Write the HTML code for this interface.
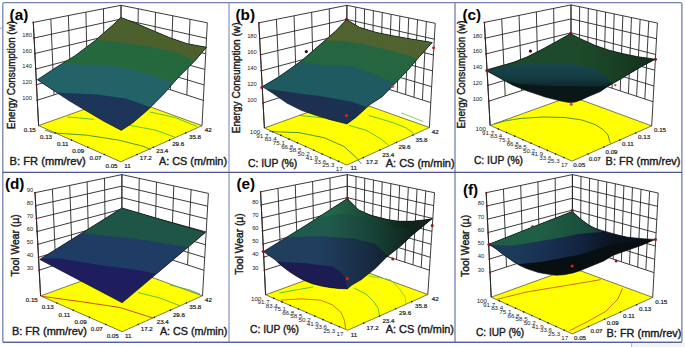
<!DOCTYPE html>
<html><head><meta charset="utf-8"><style>
html,body{margin:0;padding:0;background:#fff;}
svg{display:block;font-family:"Liberation Sans", sans-serif;}
</style></head><body>
<svg width="685" height="347" viewBox="0 0 685 347">
<rect width="685" height="347" fill="#fff"/>
<g id="pa"><g stroke="#262626" stroke-width="0.9"><line x1="38.60" y1="125.60" x2="33.30" y2="22.40"/><line x1="54.04" y1="94.93" x2="50.84" y2="18.98"/><line x1="70.78" y1="89.65" x2="68.38" y2="15.56"/><line x1="87.52" y1="84.37" x2="85.92" y2="12.14"/><line x1="104.26" y1="79.08" x2="103.46" y2="8.72"/><line x1="121.00" y1="96.15" x2="121.00" y2="5.30"/><line x1="202.00" y1="125.70" x2="207.30" y2="22.80"/><line x1="186.84" y1="95.07" x2="190.04" y2="19.30"/><line x1="170.38" y1="89.75" x2="172.78" y2="15.80"/><line x1="153.92" y1="84.44" x2="155.52" y2="12.30"/><line x1="137.46" y1="79.12" x2="138.26" y2="8.80"/><line x1="121.00" y1="73.80" x2="121.00" y2="5.30"/><polyline fill="none" points="37.3,100.2 121.0,73.8 203.3,100.4"/><polyline fill="none" points="36.5,84.7 121.0,60.1 204.1,84.9"/><polyline fill="none" points="35.7,69.1 121.0,46.4 204.9,69.4"/><polyline fill="none" points="34.9,53.5 121.0,32.7 205.7,53.8"/><polyline fill="none" points="34.1,38.0 121.0,19.0 206.5,38.3"/><polyline fill="none" points="33.3,22.4 121.0,5.3 207.3,22.8"/></g><polygon points="120.8,161.8 202.0,125.7 121.0,96.2 38.6,125.6" fill="#ffff00" stroke="#222" stroke-width="0.6"/><polyline points="67.3,117.0 80.0,118.0 94.1,119.4" fill="none" stroke="#4cbb3c" stroke-width="0.9" stroke-linejoin="round"/><polyline points="45.0,130.0 52.6,132.8 86.8,135.2 118.5,140.1 142.9,146.2 151.0,149.5" fill="none" stroke="#3d8a30" stroke-width="0.9" stroke-linejoin="round"/><polyline points="125.0,124.0 130.7,125.5 155.0,130.0 174.5,137.0" fill="none" stroke="#4cbb3c" stroke-width="0.9" stroke-linejoin="round"/><polyline points="150.0,112.0 175.0,117.5 197.0,126.5" fill="none" stroke="#4cbb3c" stroke-width="0.9" stroke-linejoin="round"/><line x1="38.60" y1="125.60" x2="33.30" y2="22.40" stroke="#222" stroke-width="0.9"/><circle cx="37.30" cy="100.21" r="0.9" fill="#8a1010"/><circle cx="36.50" cy="84.65" r="0.9" fill="#8a1010"/><circle cx="35.70" cy="69.09" r="0.9" fill="#8a1010"/><circle cx="34.90" cy="53.53" r="0.9" fill="#8a1010"/><circle cx="34.10" cy="37.96" r="0.9" fill="#8a1010"/><circle cx="33.30" cy="22.40" r="0.9" fill="#8a1010"/><defs></defs><clipPath id="cla"><polygon points="37.3,79.7 55.2,67.9 75.4,55.4 95.5,40.2 111.7,26.1 120.8,17.4 135.3,23.0 152.6,30.4 169.9,37.7 187.2,43.7 206.5,47.2 195.7,60.0 178.4,77.3 163.2,94.6 148.1,109.7 133.0,122.7 121.3,130.4 104.2,121.4 86.9,111.3 69.6,101.0 52.3,89.7"/></clipPath><polygon points="37.3,79.7 55.2,67.9 75.4,55.4 95.5,40.2 111.7,26.1 120.8,17.4 135.3,23.0 152.6,30.4 169.9,37.7 187.2,43.7 206.5,47.2 195.7,60.0 178.4,77.3 163.2,94.6 148.1,109.7 133.0,122.7 121.3,130.4 104.2,121.4 86.9,111.3 69.6,101.0 52.3,89.7" fill="#1d3558"/><g clip-path="url(#cla)"><polygon points="-30.0,91.5 30.0,91.5 60.0,92.8 97.5,94.6 125.5,98.4 144.3,104.9 151.8,107.7 160.0,112.0 220.0,112.0 220.0,-288.0 -30.0,-308.5" fill="#236368"/><polygon points="-30.0,57.0 30.0,57.0 60.0,63.7 88.0,64.7 116.2,66.5 144.3,73.1 164.9,79.6 174.2,82.4 185.0,86.0 245.0,86.0 245.0,-314.0 -30.0,-343.0" fill="#25683d"/><polygon points="20.0,39.5 80.0,39.5 96.0,40.0 118.0,42.0 150.0,46.5 178.0,53.0 195.0,61.0 210.0,66.0 270.0,66.0 270.0,-334.0 20.0,-360.5" fill="#4c602e"/></g><polygon points="37.3,79.7 55.2,67.9 75.4,55.4 95.5,40.2 111.7,26.1 120.8,17.4 135.3,23.0 152.6,30.4 169.9,37.7 187.2,43.7 206.5,47.2 195.7,60.0 178.4,77.3 163.2,94.6 148.1,109.7 133.0,122.7 121.3,130.4 104.2,121.4 86.9,111.3 69.6,101.0 52.3,89.7" fill="none" stroke="#0c0c0c" stroke-width="0.6" stroke-linejoin="round"/><circle cx="104.36" cy="154.56" r="0.8" fill="#111"/><circle cx="87.92" cy="147.32" r="0.8" fill="#111"/><circle cx="71.48" cy="140.08" r="0.8" fill="#111"/><circle cx="55.04" cy="132.84" r="0.8" fill="#111"/><circle cx="137.04" cy="154.58" r="0.8" fill="#111"/><circle cx="153.28" cy="147.36" r="0.8" fill="#111"/><circle cx="169.52" cy="140.14" r="0.8" fill="#111"/><circle cx="185.76" cy="132.92" r="0.8" fill="#111"/></g><g id="pb"><g stroke="#262626" stroke-width="0.9"><line x1="264.40" y1="128.00" x2="258.80" y2="22.80"/><line x1="279.83" y1="97.49" x2="276.42" y2="19.30"/><line x1="296.60" y1="92.13" x2="294.04" y2="15.80"/><line x1="313.36" y1="86.76" x2="311.66" y2="12.30"/><line x1="330.13" y1="81.40" x2="329.28" y2="8.80"/><line x1="346.90" y1="98.25" x2="346.90" y2="5.30"/><line x1="429.40" y1="127.50" x2="435.20" y2="23.30"/><line x1="422.40" y1="99.94" x2="426.37" y2="21.50"/><line x1="414.01" y1="97.28" x2="417.54" y2="19.70"/><line x1="405.62" y1="94.63" x2="408.71" y2="17.90"/><line x1="397.23" y1="91.97" x2="399.88" y2="16.10"/><line x1="388.84" y1="89.32" x2="391.05" y2="14.30"/><line x1="380.45" y1="86.66" x2="382.22" y2="12.50"/><line x1="372.07" y1="84.00" x2="373.39" y2="10.70"/><line x1="363.68" y1="81.35" x2="364.56" y2="8.90"/><line x1="355.29" y1="78.69" x2="355.73" y2="7.10"/><line x1="346.90" y1="76.03" x2="346.90" y2="5.30"/><polyline fill="none" points="263.1,102.9 346.9,76.0 430.8,102.6"/><polyline fill="none" points="262.2,86.8 346.9,61.9 431.7,86.7"/><polyline fill="none" points="261.4,70.8 346.9,47.7 432.6,70.9"/><polyline fill="none" points="260.5,54.8 346.9,33.6 433.4,55.0"/><polyline fill="none" points="259.7,38.8 346.9,19.4 434.3,39.2"/><polyline fill="none" points="258.8,22.8 346.9,5.3 435.2,23.3"/></g><polygon points="346.8,165.1 429.4,127.5 346.9,98.2 264.4,128.0" fill="#ffff00" stroke="#222" stroke-width="0.6"/><polyline points="299.2,115.4 324.0,117.9" fill="none" stroke="#4cbb3c" stroke-width="0.9" stroke-linejoin="round"/><polyline points="269.4,131.5 299.2,132.7 324.0,137.7 343.9,146.4 356.3,157.6 361.3,163.8" fill="none" stroke="#3d8a30" stroke-width="0.9" stroke-linejoin="round"/><polyline points="348.8,125.3 366.2,130.3 381.1,139.0 388.6,145.4" fill="none" stroke="#4cbb3c" stroke-width="0.9" stroke-linejoin="round"/><polyline points="368.7,115.4 393.5,122.8 405.9,127.8 413.4,133.0" fill="none" stroke="#4cbb3c" stroke-width="0.9" stroke-linejoin="round"/><polyline points="401.0,112.9 423.3,121.6" fill="none" stroke="#7ccc4c" stroke-width="0.9" stroke-linejoin="round"/><line x1="264.40" y1="128.00" x2="258.80" y2="22.80" stroke="#222" stroke-width="0.9"/><circle cx="263.06" cy="102.86" r="0.9" fill="#8a1010"/><circle cx="262.21" cy="86.85" r="0.9" fill="#8a1010"/><circle cx="261.36" cy="70.83" r="0.9" fill="#8a1010"/><circle cx="260.50" cy="54.82" r="0.9" fill="#8a1010"/><circle cx="259.65" cy="38.81" r="0.9" fill="#8a1010"/><circle cx="258.80" cy="22.80" r="0.9" fill="#8a1010"/><defs></defs><clipPath id="clb"><polygon points="262.3,86.6 278.1,77.3 301.1,61.1 319.6,45.0 335.7,31.1 346.6,19.6 359.3,27.3 376.6,32.5 393.8,35.9 411.1,39.0 432.3,42.4 420.0,56.0 408.0,70.0 391.9,86.7 381.9,96.9 370.0,104.6 355.9,117.4 346.9,123.9 330.1,119.7 315.7,115.3 301.3,110.3 286.8,103.1 272.4,93.0"/></clipPath><polygon points="262.3,86.6 278.1,77.3 301.1,61.1 319.6,45.0 335.7,31.1 346.6,19.6 359.3,27.3 376.6,32.5 393.8,35.9 411.1,39.0 432.3,42.4 420.0,56.0 408.0,70.0 391.9,86.7 381.9,96.9 370.0,104.6 355.9,117.4 346.9,123.9 330.1,119.7 315.7,115.3 301.3,110.3 286.8,103.1 272.4,93.0" fill="#1c3152"/><g clip-path="url(#clb)"><polygon points="195.0,87.0 255.0,87.0 279.6,90.8 301.3,93.7 322.9,96.6 350.0,101.6 363.1,105.7 371.0,108.3 380.0,112.0 440.0,112.0 440.0,-288.0 195.0,-313.0" fill="#1f5a60"/><polygon points="230.0,62.0 290.0,62.0 301.1,62.3 323.7,65.0 350.0,65.7 363.0,70.2 386.7,79.4 395.0,84.0 455.0,84.0 455.0,-316.0 230.0,-338.0" fill="#256640"/><polygon points="255.0,40.0 315.0,40.0 324.2,40.4 342.0,41.1 361.3,43.7 376.6,47.2 411.0,56.0 425.0,65.0 435.0,70.0 495.0,70.0 495.0,-330.0 255.0,-360.0" fill="#506230"/></g><polygon points="262.3,86.6 278.1,77.3 301.1,61.1 319.6,45.0 335.7,31.1 346.6,19.6 359.3,27.3 376.6,32.5 393.8,35.9 411.1,39.0 432.3,42.4 420.0,56.0 408.0,70.0 391.9,86.7 381.9,96.9 370.0,104.6 355.9,117.4 346.9,123.9 330.1,119.7 315.7,115.3 301.3,110.3 286.8,103.1 272.4,93.0" fill="none" stroke="#0c0c0c" stroke-width="0.6" stroke-linejoin="round"/><circle cx="338.56" cy="161.39" r="0.8" fill="#111"/><circle cx="330.32" cy="157.68" r="0.8" fill="#111"/><circle cx="322.08" cy="153.97" r="0.8" fill="#111"/><circle cx="313.84" cy="150.26" r="0.8" fill="#111"/><circle cx="305.60" cy="146.55" r="0.8" fill="#111"/><circle cx="297.36" cy="142.84" r="0.8" fill="#111"/><circle cx="289.12" cy="139.13" r="0.8" fill="#111"/><circle cx="280.88" cy="135.42" r="0.8" fill="#111"/><circle cx="272.64" cy="131.71" r="0.8" fill="#111"/><circle cx="363.32" cy="157.58" r="0.8" fill="#111"/><circle cx="379.84" cy="150.06" r="0.8" fill="#111"/><circle cx="396.36" cy="142.54" r="0.8" fill="#111"/><circle cx="412.88" cy="135.02" r="0.8" fill="#111"/><circle cx="346.5" cy="115.5" r="1.5" fill="#e02020"/><circle cx="261.8" cy="87.6" r="1.5" fill="#a01818"/><circle cx="433.6" cy="47.8" r="1.5" fill="#c02020"/><circle cx="346.4" cy="19.4" r="1.5" fill="#801010"/><circle cx="392.9" cy="86.6" r="1.4" fill="#d04040"/><circle cx="306.3" cy="51.6" r="1.6" fill="#3a0a0a"/></g><g id="pc"><g stroke="#262626" stroke-width="0.9"><line x1="490.10" y1="125.40" x2="484.40" y2="22.40"/><line x1="505.21" y1="95.90" x2="501.72" y2="18.90"/><line x1="521.66" y1="90.60" x2="519.04" y2="15.40"/><line x1="538.10" y1="85.30" x2="536.36" y2="11.90"/><line x1="554.55" y1="80.00" x2="553.68" y2="8.40"/><line x1="571.00" y1="96.15" x2="571.00" y2="4.90"/><line x1="651.70" y1="125.90" x2="657.40" y2="23.00"/><line x1="644.84" y1="99.02" x2="648.76" y2="21.19"/><line x1="636.63" y1="96.32" x2="640.12" y2="19.38"/><line x1="628.43" y1="93.61" x2="631.48" y2="17.57"/><line x1="620.22" y1="90.91" x2="622.84" y2="15.76"/><line x1="612.02" y1="88.21" x2="614.20" y2="13.95"/><line x1="603.82" y1="85.51" x2="605.56" y2="12.14"/><line x1="595.61" y1="82.81" x2="596.92" y2="10.33"/><line x1="587.41" y1="80.11" x2="588.28" y2="8.52"/><line x1="579.20" y1="77.41" x2="579.64" y2="6.71"/><line x1="571.00" y1="74.71" x2="571.00" y2="4.90"/><polyline fill="none" points="488.8,101.2 571.0,74.7 653.0,101.7"/><polyline fill="none" points="487.9,85.4 571.0,60.7 653.9,86.0"/><polyline fill="none" points="487.0,69.7 571.0,46.8 654.8,70.2"/><polyline fill="none" points="486.1,53.9 571.0,32.8 655.7,54.5"/><polyline fill="none" points="485.3,38.2 571.0,18.9 656.5,38.7"/><polyline fill="none" points="484.4,22.4 571.0,4.9 657.4,23.0"/></g><polygon points="572.0,161.1 651.7,125.9 571.0,96.2 490.1,125.4" fill="#ffff00" stroke="#222" stroke-width="0.6"/><polyline points="494.0,124.0 505.0,121.0 520.0,118.5 543.0,117.0 565.0,117.5 582.0,120.0 595.0,124.5 603.0,129.5 608.0,135.0 610.3,143.5" fill="none" stroke="#3d8a30" stroke-width="0.9" stroke-linejoin="round"/><line x1="490.10" y1="125.40" x2="484.40" y2="22.40" stroke="#222" stroke-width="0.9"/><circle cx="488.76" cy="101.20" r="0.9" fill="#8a1010"/><circle cx="487.89" cy="85.44" r="0.9" fill="#8a1010"/><circle cx="487.02" cy="69.68" r="0.9" fill="#8a1010"/><circle cx="486.14" cy="53.92" r="0.9" fill="#8a1010"/><circle cx="485.27" cy="38.16" r="0.9" fill="#8a1010"/><circle cx="484.40" cy="22.40" r="0.9" fill="#8a1010"/><defs><linearGradient id="gc0" gradientUnits="userSpaceOnUse" x1="0" y1="62" x2="0" y2="90"><stop offset="0" stop-color="#184850"/><stop offset="0.6" stop-color="#143a40"/><stop offset="1" stop-color="#0c1e20"/></linearGradient><linearGradient id="gc1" gradientUnits="userSpaceOnUse" x1="580" y1="0" x2="660" y2="0"><stop offset="0" stop-color="#1d4a2a"/><stop offset="0.5" stop-color="#183e22"/><stop offset="1" stop-color="#112a1a"/></linearGradient></defs><clipPath id="clc"><polygon points="486.4,70.8 498.4,66.9 512.8,62.6 527.2,56.8 541.6,49.6 556.0,41.7 570.5,33.6 580.4,38.7 594.8,45.2 609.2,50.2 623.6,53.8 638.0,56.7 655.4,59.2 641.3,66.7 624.5,76.8 607.8,86.5 600.0,91.8 589.2,96.2 581.1,99.9 575.5,101.9 571.0,102.6 567.5,102.3 561.1,101.1 553.0,99.1 545.0,97.0 541.6,95.8 527.2,91.0 512.8,85.2 498.4,77.3"/></clipPath><polygon points="486.4,70.8 498.4,66.9 512.8,62.6 527.2,56.8 541.6,49.6 556.0,41.7 570.5,33.6 580.4,38.7 594.8,45.2 609.2,50.2 623.6,53.8 638.0,56.7 655.4,59.2 641.3,66.7 624.5,76.8 607.8,86.5 600.0,91.8 589.2,96.2 581.1,99.9 575.5,101.9 571.0,102.6 567.5,102.3 561.1,101.1 553.0,99.1 545.0,97.0 541.6,95.8 527.2,91.0 512.8,85.2 498.4,77.3" fill="#0a1719"/><g clip-path="url(#clc)"><polygon points="480.0,69.0 527.2,62.0 570.5,62.0 594.8,66.0 603.5,73.0 612.0,82.0 606.0,86.0 590.0,87.0 574.0,86.0 550.0,86.0 520.0,84.0 500.0,80.0 480.0,77.0" fill="url(#gc0)"/><polygon points="420.0,70.5 480.0,70.5 492.0,69.5 498.4,67.6 527.2,63.3 570.5,64.0 594.8,68.2 603.5,75.0 612.0,84.0 620.0,92.0 680.0,92.0 680.0,-308.0 420.0,-329.5" fill="url(#gc1)"/></g><polygon points="486.4,70.8 498.4,66.9 512.8,62.6 527.2,56.8 541.6,49.6 556.0,41.7 570.5,33.6 580.4,38.7 594.8,45.2 609.2,50.2 623.6,53.8 638.0,56.7 655.4,59.2 641.3,66.7 624.5,76.8 607.8,86.5 600.0,91.8 589.2,96.2 581.1,99.9 575.5,101.9 571.0,102.6 567.5,102.3 561.1,101.1 553.0,99.1 545.0,97.0 541.6,95.8 527.2,91.0 512.8,85.2 498.4,77.3" fill="none" stroke="#0c0c0c" stroke-width="0.6" stroke-linejoin="round"/><circle cx="563.81" cy="157.53" r="0.8" fill="#111"/><circle cx="555.62" cy="153.96" r="0.8" fill="#111"/><circle cx="547.43" cy="150.39" r="0.8" fill="#111"/><circle cx="539.24" cy="146.82" r="0.8" fill="#111"/><circle cx="531.05" cy="143.25" r="0.8" fill="#111"/><circle cx="522.86" cy="139.68" r="0.8" fill="#111"/><circle cx="514.67" cy="136.11" r="0.8" fill="#111"/><circle cx="506.48" cy="132.54" r="0.8" fill="#111"/><circle cx="498.29" cy="128.97" r="0.8" fill="#111"/><circle cx="587.94" cy="154.06" r="0.8" fill="#111"/><circle cx="603.88" cy="147.02" r="0.8" fill="#111"/><circle cx="619.82" cy="139.98" r="0.8" fill="#111"/><circle cx="635.76" cy="132.94" r="0.8" fill="#111"/><circle cx="571.3" cy="104.3" r="1.5" fill="#d04050"/><circle cx="486.8" cy="70.6" r="1.5" fill="#901818"/><circle cx="570.7" cy="33.4" r="1.5" fill="#801010"/><circle cx="655.5" cy="59.2" r="1.5" fill="#801010"/><circle cx="530.4" cy="51.1" r="1.6" fill="#3a0a0a"/><circle cx="615.3" cy="85.1" r="1.2" fill="#c04050"/></g><g id="pd"><g stroke="#262626" stroke-width="0.9"><line x1="40.60" y1="295.90" x2="35.00" y2="192.70"/><line x1="55.74" y1="264.86" x2="52.38" y2="189.08"/><line x1="72.28" y1="259.52" x2="69.76" y2="185.46"/><line x1="88.82" y1="254.18" x2="87.14" y2="181.84"/><line x1="105.36" y1="248.84" x2="104.52" y2="178.22"/><line x1="121.90" y1="266.35" x2="121.90" y2="174.60"/><line x1="202.50" y1="295.80" x2="208.40" y2="193.40"/><line x1="187.56" y1="264.94" x2="191.10" y2="189.64"/><line x1="171.14" y1="259.58" x2="173.80" y2="185.88"/><line x1="154.73" y1="254.22" x2="156.50" y2="182.12"/><line x1="138.31" y1="248.86" x2="139.20" y2="178.36"/><line x1="121.90" y1="243.50" x2="121.90" y2="174.60"/><polyline fill="none" points="39.2,270.2 121.9,243.5 204.0,270.3"/><polyline fill="none" points="38.5,257.3 121.9,232.0 204.7,257.5"/><polyline fill="none" points="37.8,244.4 121.9,220.5 205.4,244.7"/><polyline fill="none" points="37.1,231.5 121.9,209.1 206.2,231.9"/><polyline fill="none" points="36.4,218.5 121.9,197.6 206.9,219.0"/><polyline fill="none" points="35.7,205.6 121.9,186.1 207.7,206.2"/><polyline fill="none" points="35.0,192.7 121.9,174.6 208.4,193.4"/></g><polygon points="122.1,331.7 202.5,295.8 121.9,266.4 40.6,295.9" fill="#ffff00" stroke="#222" stroke-width="0.6"/><polyline points="41.0,296.2 80.0,301.5 120.0,307.5 152.9,318.0" fill="none" stroke="#c83818" stroke-width="0.9" stroke-linejoin="round"/><polyline points="138.0,292.6 160.0,298.0 180.0,305.8" fill="none" stroke="#4cbb3c" stroke-width="0.9" stroke-linejoin="round"/><polyline points="170.0,285.0 190.0,290.0 200.0,294.0" fill="none" stroke="#4cbb3c" stroke-width="0.9" stroke-linejoin="round"/><line x1="40.60" y1="295.90" x2="35.00" y2="192.70" stroke="#222" stroke-width="0.9"/><circle cx="39.21" cy="270.20" r="0.9" fill="#8a1010"/><circle cx="38.50" cy="257.29" r="0.9" fill="#8a1010"/><circle cx="37.80" cy="244.37" r="0.9" fill="#8a1010"/><circle cx="37.10" cy="231.45" r="0.9" fill="#8a1010"/><circle cx="36.40" cy="218.53" r="0.9" fill="#8a1010"/><circle cx="35.70" cy="205.62" r="0.9" fill="#8a1010"/><circle cx="35.00" cy="192.70" r="0.9" fill="#8a1010"/><defs></defs><clipPath id="cld"><polygon points="39.7,259.4 122.0,207.9 205.3,232.6 122.2,302.8"/></clipPath><polygon points="39.7,259.4 122.0,207.9 205.3,232.6 122.2,302.8" fill="#1e1e5f"/><g clip-path="url(#cld)"><polygon points="-30.0,257.5 30.0,257.5 39.7,258.5 60.0,258.4 98.9,264.9 137.9,270.1 163.8,275.3 175.0,278.0 235.0,278.0 235.0,-122.0 -30.0,-142.5" fill="#1f3d64"/><polygon points="0.0,230.0 60.0,230.0 86.0,233.7 137.9,238.9 176.8,245.4 189.8,248.0 200.0,250.0 260.0,250.0 260.0,-150.0 0.0,-170.0" fill="#1f5546"/></g><polygon points="39.7,259.4 122.0,207.9 205.3,232.6 122.2,302.8" fill="none" stroke="#0c0c0c" stroke-width="0.6" stroke-linejoin="round"/><circle cx="105.80" cy="324.54" r="0.8" fill="#111"/><circle cx="89.50" cy="317.38" r="0.8" fill="#111"/><circle cx="73.20" cy="310.22" r="0.8" fill="#111"/><circle cx="56.90" cy="303.06" r="0.8" fill="#111"/><circle cx="138.18" cy="324.52" r="0.8" fill="#111"/><circle cx="154.26" cy="317.34" r="0.8" fill="#111"/><circle cx="170.34" cy="310.16" r="0.8" fill="#111"/><circle cx="186.42" cy="302.98" r="0.8" fill="#111"/></g><g id="pe"><g stroke="#262626" stroke-width="0.9"><line x1="265.60" y1="294.80" x2="260.60" y2="191.80"/><line x1="280.98" y1="264.85" x2="277.94" y2="188.36"/><line x1="297.56" y1="259.51" x2="295.28" y2="184.92"/><line x1="314.14" y1="254.18" x2="312.62" y2="181.48"/><line x1="330.72" y1="248.84" x2="329.96" y2="178.04"/><line x1="347.30" y1="265.15" x2="347.30" y2="174.60"/><line x1="427.80" y1="294.50" x2="434.50" y2="192.70"/><line x1="421.19" y1="267.50" x2="425.78" y2="190.89"/><line x1="412.98" y1="264.84" x2="417.06" y2="189.08"/><line x1="404.77" y1="262.17" x2="408.34" y2="187.27"/><line x1="396.56" y1="259.51" x2="399.62" y2="185.46"/><line x1="388.35" y1="256.84" x2="390.90" y2="183.65"/><line x1="380.14" y1="254.17" x2="382.18" y2="181.84"/><line x1="371.93" y1="251.51" x2="373.46" y2="180.03"/><line x1="363.72" y1="248.84" x2="364.74" y2="178.22"/><line x1="355.51" y1="246.17" x2="356.02" y2="176.41"/><line x1="347.30" y1="243.51" x2="347.30" y2="174.60"/><polyline fill="none" points="264.4,270.2 347.3,243.5 429.4,270.2"/><polyline fill="none" points="263.8,257.1 347.3,232.0 430.3,257.3"/><polyline fill="none" points="263.1,244.1 347.3,220.5 431.1,244.3"/><polyline fill="none" points="262.5,231.0 347.3,209.1 432.0,231.4"/><polyline fill="none" points="261.9,217.9 347.3,197.6 432.8,218.5"/><polyline fill="none" points="261.2,204.9 347.3,186.1 433.7,205.6"/><polyline fill="none" points="260.6,191.8 347.3,174.6 434.5,192.7"/></g><polygon points="347.6,330.3 427.8,294.5 347.3,265.1 265.6,294.8" fill="#ffff00" stroke="#222" stroke-width="0.6"/><polyline points="280.7,300.1 301.1,298.9 320.4,300.1 332.5,304.9 340.9,312.2 344.5,320.6 345.7,329.0" fill="none" stroke="#d06a10" stroke-width="0.9" stroke-linejoin="round"/><polyline points="279.5,292.9 313.2,286.9" fill="none" stroke="#4cbb3c" stroke-width="0.9" stroke-linejoin="round"/><polyline points="354.2,288.1 366.2,294.1 373.4,301.3 378.3,308.6 379.5,316.0" fill="none" stroke="#4cbb3c" stroke-width="0.9" stroke-linejoin="round"/><polyline points="368.6,276.0 390.3,279.6 399.9,289.3 404.8,296.5 406.0,304.0" fill="none" stroke="#7ccc4c" stroke-width="0.9" stroke-linejoin="round"/><line x1="265.60" y1="294.80" x2="260.60" y2="191.80" stroke="#222" stroke-width="0.9"/><circle cx="264.41" cy="270.18" r="0.9" fill="#8a1010"/><circle cx="263.77" cy="257.12" r="0.9" fill="#8a1010"/><circle cx="263.14" cy="244.06" r="0.9" fill="#8a1010"/><circle cx="262.50" cy="230.99" r="0.9" fill="#8a1010"/><circle cx="261.87" cy="217.93" r="0.9" fill="#8a1010"/><circle cx="261.23" cy="204.86" r="0.9" fill="#8a1010"/><circle cx="260.60" cy="191.80" r="0.9" fill="#8a1010"/><defs><linearGradient id="geb" gradientUnits="userSpaceOnUse" x1="320" y1="0" x2="410" y2="0"><stop offset="0" stop-color="#203e5e"/><stop offset="0.5" stop-color="#182c44"/><stop offset="1" stop-color="#0e1620"/></linearGradient><linearGradient id="ge0" gradientUnits="userSpaceOnUse" x1="330" y1="0" x2="425" y2="0"><stop offset="0" stop-color="#1f5a4c"/><stop offset="0.5" stop-color="#173f34"/><stop offset="1" stop-color="#0c1a16"/></linearGradient><linearGradient id="ge1" gradientUnits="userSpaceOnUse" x1="330" y1="0" x2="405" y2="0"><stop offset="0" stop-color="#23684a"/><stop offset="0.5" stop-color="#1a4a34"/><stop offset="1" stop-color="#10241a"/></linearGradient></defs><clipPath id="cle"><polygon points="263.3,251.6 305.0,225.8 347.3,198.6 358.4,209.8 371.9,215.8 385.3,219.2 398.7,221.2 412.1,221.2 425.6,219.8 432.3,218.6 420.2,228.6 412.1,235.3 401.3,245.4 386.5,257.2 375.0,268.8 361.1,279.8 351.9,285.1 347.5,288.8 338.8,288.5 330.0,287.6 321.3,286.0 312.5,283.8 304.1,280.4 298.3,277.3 292.6,273.8 286.8,269.8 281.0,265.2 275.3,260.0 269.5,255.9"/></clipPath><polygon points="263.3,251.6 305.0,225.8 347.3,198.6 358.4,209.8 371.9,215.8 385.3,219.2 398.7,221.2 412.1,221.2 425.6,219.8 432.3,218.6 420.2,228.6 412.1,235.3 401.3,245.4 386.5,257.2 375.0,268.8 361.1,279.8 351.9,285.1 347.5,288.8 338.8,288.5 330.0,287.6 321.3,286.0 312.5,283.8 304.1,280.4 298.3,277.3 292.6,273.8 286.8,269.8 281.0,265.2 275.3,260.0 269.5,255.9" fill="url(#geb)"/><g clip-path="url(#cle)"><polygon points="195.0,238.0 255.0,238.0 286.0,237.0 321.8,236.3 353.5,238.4 374.7,243.7 390.0,258.0 450.0,258.0 450.0,-142.0 195.0,-162.0" fill="url(#ge0)"/><polygon points="230.0,224.0 290.0,224.0 300.0,222.0 320.3,217.3 341.3,213.8 358.8,215.5 376.3,220.8 395.0,228.0 455.0,228.0 455.0,-172.0 230.0,-176.0" fill="url(#ge1)"/><polygon points="195.0,261.0 255.0,261.0 275.3,261.2 286.8,262.3 308.0,263.4 332.3,266.5 341.5,272.3 345.0,278.0 349.0,292.0 409.0,292.0 409.0,692.0 195.0,661.0" fill="#1c1c50"/></g><polygon points="263.3,251.6 305.0,225.8 347.3,198.6 358.4,209.8 371.9,215.8 385.3,219.2 398.7,221.2 412.1,221.2 425.6,219.8 432.3,218.6 420.2,228.6 412.1,235.3 401.3,245.4 386.5,257.2 375.0,268.8 361.1,279.8 351.9,285.1 347.5,288.8 338.8,288.5 330.0,287.6 321.3,286.0 312.5,283.8 304.1,280.4 298.3,277.3 292.6,273.8 286.8,269.8 281.0,265.2 275.3,260.0 269.5,255.9" fill="none" stroke="#0c0c0c" stroke-width="0.6" stroke-linejoin="round"/><circle cx="339.40" cy="326.75" r="0.8" fill="#111"/><circle cx="331.20" cy="323.20" r="0.8" fill="#111"/><circle cx="323.00" cy="319.65" r="0.8" fill="#111"/><circle cx="314.80" cy="316.10" r="0.8" fill="#111"/><circle cx="306.60" cy="312.55" r="0.8" fill="#111"/><circle cx="298.40" cy="309.00" r="0.8" fill="#111"/><circle cx="290.20" cy="305.45" r="0.8" fill="#111"/><circle cx="282.00" cy="301.90" r="0.8" fill="#111"/><circle cx="273.80" cy="298.35" r="0.8" fill="#111"/><circle cx="363.64" cy="323.14" r="0.8" fill="#111"/><circle cx="379.68" cy="315.98" r="0.8" fill="#111"/><circle cx="395.72" cy="308.82" r="0.8" fill="#111"/><circle cx="411.76" cy="301.66" r="0.8" fill="#111"/><circle cx="347.3" cy="278.4" r="1.5" fill="#e02020"/><circle cx="263.2" cy="251.6" r="1.5" fill="#901818"/><circle cx="347.3" cy="198.3" r="1.5" fill="#801010"/><circle cx="432.2" cy="225.4" r="1.5" fill="#901818"/><circle cx="392.7" cy="259" r="1.5" fill="#901818"/></g><g id="pf"><g stroke="#262626" stroke-width="0.9"><line x1="491.20" y1="297.20" x2="486.20" y2="192.70"/><line x1="506.49" y1="266.99" x2="503.44" y2="189.08"/><line x1="522.97" y1="261.64" x2="520.68" y2="185.46"/><line x1="539.44" y1="256.30" x2="537.92" y2="181.84"/><line x1="555.92" y1="250.96" x2="555.16" y2="178.22"/><line x1="572.40" y1="267.80" x2="572.40" y2="174.60"/><line x1="652.70" y1="297.40" x2="658.20" y2="193.00"/><line x1="645.85" y1="269.86" x2="649.62" y2="191.16"/><line x1="637.69" y1="267.17" x2="641.04" y2="189.32"/><line x1="629.53" y1="264.47" x2="632.46" y2="187.48"/><line x1="621.37" y1="261.78" x2="623.88" y2="185.64"/><line x1="613.20" y1="259.09" x2="615.30" y2="183.80"/><line x1="605.04" y1="256.39" x2="606.72" y2="181.96"/><line x1="596.88" y1="253.70" x2="598.14" y2="180.12"/><line x1="588.72" y1="251.01" x2="589.56" y2="178.28"/><line x1="580.56" y1="248.31" x2="580.98" y2="176.44"/><line x1="572.40" y1="245.62" x2="572.40" y2="174.60"/><polyline fill="none" points="490.0,272.3 572.4,245.6 654.0,272.6"/><polyline fill="none" points="489.4,259.1 572.4,233.8 654.7,259.3"/><polyline fill="none" points="488.7,245.8 572.4,221.9 655.4,246.0"/><polyline fill="none" points="488.1,232.5 572.4,210.1 656.1,232.8"/><polyline fill="none" points="487.5,219.2 572.4,198.3 656.8,219.5"/><polyline fill="none" points="486.8,206.0 572.4,186.4 657.5,206.3"/><polyline fill="none" points="486.2,192.7 572.4,174.6 658.2,193.0"/></g><polygon points="572.4,333.9 652.7,297.4 572.4,267.8 491.2,297.2" fill="#ffff00" stroke="#222" stroke-width="0.6"/><polyline points="497.2,299.3 526.1,292.1 562.3,286.1 591.2,281.3 600.8,279.6" fill="none" stroke="#d05a10" stroke-width="0.9" stroke-linejoin="round"/><polyline points="622.5,288.5 617.7,299.3 605.7,311.4 586.4,322.2 569.5,330.7" fill="none" stroke="#d05a10" stroke-width="0.9" stroke-linejoin="round"/><line x1="491.20" y1="297.20" x2="486.20" y2="192.70" stroke="#222" stroke-width="0.9"/><circle cx="490.01" cy="272.33" r="0.9" fill="#8a1010"/><circle cx="489.38" cy="259.06" r="0.9" fill="#8a1010"/><circle cx="488.74" cy="245.79" r="0.9" fill="#8a1010"/><circle cx="488.10" cy="232.51" r="0.9" fill="#8a1010"/><circle cx="487.47" cy="219.24" r="0.9" fill="#8a1010"/><circle cx="486.83" cy="205.97" r="0.9" fill="#8a1010"/><circle cx="486.20" cy="192.70" r="0.9" fill="#8a1010"/><defs><linearGradient id="gf0" gradientUnits="userSpaceOnUse" x1="520" y1="240" x2="610" y2="262"><stop offset="0" stop-color="#1c3a5a"/><stop offset="0.5" stop-color="#15294a"/><stop offset="1" stop-color="#0a1420"/></linearGradient><linearGradient id="gf1" gradientUnits="userSpaceOnUse" x1="540" y1="0" x2="630" y2="0"><stop offset="0" stop-color="#1f5f43"/><stop offset="0.6" stop-color="#1a4a3a"/><stop offset="1" stop-color="#0c1c18"/></linearGradient></defs><clipPath id="clf"><polygon points="488.8,244.3 530.0,228.0 572.3,211.4 580.0,218.5 588.7,225.0 598.8,230.3 613.2,234.2 627.6,237.2 642.0,238.7 655.2,239.4 642.0,245.2 627.6,250.2 613.2,255.3 603.3,261.2 594.6,264.7 586.0,268.2 579.9,270.8 573.0,272.9 564.3,274.7 556.0,275.2 546.9,274.0 538.4,272.5 532.4,270.6 526.3,268.5 520.3,265.8 514.2,262.2 508.2,258.0 502.1,253.7 496.1,248.9"/></clipPath><polygon points="488.8,244.3 530.0,228.0 572.3,211.4 580.0,218.5 588.7,225.0 598.8,230.3 613.2,234.2 627.6,237.2 642.0,238.7 655.2,239.4 642.0,245.2 627.6,250.2 613.2,255.3 603.3,261.2 594.6,264.7 586.0,268.2 579.9,270.8 573.0,272.9 564.3,274.7 556.0,275.2 546.9,274.0 538.4,272.5 532.4,270.6 526.3,268.5 520.3,265.8 514.2,262.2 508.2,258.0 502.1,253.7 496.1,248.9" fill="#080f12"/><g clip-path="url(#clf)"><polygon points="420.0,268.0 480.0,268.0 500.0,266.0 540.0,262.0 578.0,255.0 610.0,245.0 650.0,238.0 710.0,238.0 710.0,-162.0 420.0,-132.0" fill="url(#gf0)"/><polygon points="420.0,245.0 480.0,245.0 488.8,244.8 510.0,245.7 533.0,242.3 560.0,237.7 578.0,234.0 600.0,232.0 620.0,232.0 660.0,236.0 720.0,236.0 720.0,-164.0 420.0,-155.0" fill="url(#gf1)"/></g><polygon points="488.8,244.3 530.0,228.0 572.3,211.4 580.0,218.5 588.7,225.0 598.8,230.3 613.2,234.2 627.6,237.2 642.0,238.7 655.2,239.4 642.0,245.2 627.6,250.2 613.2,255.3 603.3,261.2 594.6,264.7 586.0,268.2 579.9,270.8 573.0,272.9 564.3,274.7 556.0,275.2 546.9,274.0 538.4,272.5 532.4,270.6 526.3,268.5 520.3,265.8 514.2,262.2 508.2,258.0 502.1,253.7 496.1,248.9" fill="none" stroke="#0c0c0c" stroke-width="0.6" stroke-linejoin="round"/><circle cx="564.28" cy="330.23" r="0.8" fill="#111"/><circle cx="556.16" cy="326.56" r="0.8" fill="#111"/><circle cx="548.04" cy="322.89" r="0.8" fill="#111"/><circle cx="539.92" cy="319.22" r="0.8" fill="#111"/><circle cx="531.80" cy="315.55" r="0.8" fill="#111"/><circle cx="523.68" cy="311.88" r="0.8" fill="#111"/><circle cx="515.56" cy="308.21" r="0.8" fill="#111"/><circle cx="507.44" cy="304.54" r="0.8" fill="#111"/><circle cx="499.32" cy="300.87" r="0.8" fill="#111"/><circle cx="588.46" cy="326.60" r="0.8" fill="#111"/><circle cx="604.52" cy="319.30" r="0.8" fill="#111"/><circle cx="620.58" cy="312.00" r="0.8" fill="#111"/><circle cx="636.64" cy="304.70" r="0.8" fill="#111"/><circle cx="572.1" cy="266" r="1.5" fill="#e02020"/><circle cx="488.9" cy="244.3" r="1.5" fill="#901818"/><circle cx="572.3" cy="210.4" r="1.5" fill="#801010"/><circle cx="655.5" cy="239.6" r="1.5" fill="#901818"/><circle cx="532.6" cy="226.6" r="1.4" fill="#a01818"/><circle cx="616.1" cy="261" r="1.5" fill="#901818"/></g>
<text x="9.6" y="19.7" font-size="15.3" text-anchor="start" font-weight="bold" fill="#000">(a)</text><text x="235.5" y="19.7" font-size="15.3" text-anchor="start" font-weight="bold" fill="#000">(b)</text><text x="462.5" y="19.7" font-size="15.3" text-anchor="start" font-weight="bold" fill="#000">(c)</text><text x="4.9" y="189" font-size="15.3" text-anchor="start" font-weight="bold" fill="#000">(d)</text><text x="236.4" y="189" font-size="15.3" text-anchor="start" font-weight="bold" fill="#000">(e)</text><text x="462.9" y="195" font-size="15.3" text-anchor="start" font-weight="bold" fill="#000">(f)</text><text x="15.2" y="129" font-size="10.2" text-anchor="start" font-weight="normal" fill="#1a1a1a" transform="rotate(-90 15.2 129)" textLength="108" lengthAdjust="spacingAndGlyphs" stroke="#1a1a1a" stroke-width="0.4">Energy Consumption (w)</text><text x="240.3" y="133.3" font-size="10.2" text-anchor="start" font-weight="normal" fill="#1a1a1a" transform="rotate(-90 240.3 133.3)" textLength="110.8" lengthAdjust="spacingAndGlyphs" stroke="#1a1a1a" stroke-width="0.4">Energy Consumption (w)</text><text x="465.2" y="128.6" font-size="10.2" text-anchor="start" font-weight="normal" fill="#1a1a1a" transform="rotate(-90 465.2 128.6)" textLength="108.2" lengthAdjust="spacingAndGlyphs" stroke="#1a1a1a" stroke-width="0.4">Energy Consumption (w)</text><text x="19.2" y="276.4" font-size="10.2" text-anchor="start" font-weight="normal" fill="#1a1a1a" transform="rotate(-90 19.2 276.4)" textLength="62.0" lengthAdjust="spacingAndGlyphs" stroke="#1a1a1a" stroke-width="0.4">Tool Wear (µ)</text><text x="243.0" y="274.8" font-size="10.2" text-anchor="start" font-weight="normal" fill="#1a1a1a" transform="rotate(-90 243.0 274.8)" textLength="61.5" lengthAdjust="spacingAndGlyphs" stroke="#1a1a1a" stroke-width="0.4">Tool Wear (µ)</text><text x="469.0" y="277" font-size="10.2" text-anchor="start" font-weight="normal" fill="#1a1a1a" transform="rotate(-90 469.0 277)" textLength="62.1" lengthAdjust="spacingAndGlyphs" stroke="#1a1a1a" stroke-width="0.4">Tool Wear (µ)</text><text x="9.6" y="165.2" font-size="11" text-anchor="start" font-weight="normal" fill="#1a1a1a" textLength="76.2" lengthAdjust="spacingAndGlyphs" stroke="#1a1a1a" stroke-width="0.4">B: FR (mm/rev)</text><text x="159" y="164.7" font-size="11" text-anchor="start" font-weight="normal" fill="#1a1a1a" textLength="68" lengthAdjust="spacingAndGlyphs" stroke="#1a1a1a" stroke-width="0.4">A: CS (m/min)</text><text x="247.9" y="167.3" font-size="11" text-anchor="start" font-weight="normal" fill="#1a1a1a" textLength="49.4" lengthAdjust="spacingAndGlyphs" stroke="#1a1a1a" stroke-width="0.4">C: IUP (%)</text><text x="385.8" y="167.3" font-size="11" text-anchor="start" font-weight="normal" fill="#1a1a1a" textLength="68.8" lengthAdjust="spacingAndGlyphs" stroke="#1a1a1a" stroke-width="0.4">A: CS (m/min)</text><text x="473.9" y="164.3" font-size="11" text-anchor="start" font-weight="normal" fill="#1a1a1a" textLength="49.1" lengthAdjust="spacingAndGlyphs" stroke="#1a1a1a" stroke-width="0.4">C: IUP (%)</text><text x="605.6" y="164.7" font-size="11" text-anchor="start" font-weight="normal" fill="#1a1a1a" textLength="74.8" lengthAdjust="spacingAndGlyphs" stroke="#1a1a1a" stroke-width="0.4">B: FR (mm/rev)</text><text x="11.9" y="334.7" font-size="11" text-anchor="start" font-weight="normal" fill="#1a1a1a" textLength="75.1" lengthAdjust="spacingAndGlyphs" stroke="#1a1a1a" stroke-width="0.4">B: FR (mm/rev)</text><text x="159.9" y="334.7" font-size="11" text-anchor="start" font-weight="normal" fill="#1a1a1a" textLength="67.4" lengthAdjust="spacingAndGlyphs" stroke="#1a1a1a" stroke-width="0.4">A: CS (m/min)</text><text x="250" y="333.4" font-size="11" text-anchor="start" font-weight="normal" fill="#1a1a1a" textLength="49" lengthAdjust="spacingAndGlyphs" stroke="#1a1a1a" stroke-width="0.4">C: IUP (%)</text><text x="385.8" y="333.4" font-size="11" text-anchor="start" font-weight="normal" fill="#1a1a1a" textLength="68.2" lengthAdjust="spacingAndGlyphs" stroke="#1a1a1a" stroke-width="0.4">A: CS (m/min)</text><text x="476" y="336.4" font-size="11" text-anchor="start" font-weight="normal" fill="#1a1a1a" textLength="48.2" lengthAdjust="spacingAndGlyphs" stroke="#1a1a1a" stroke-width="0.4">C: IUP (%)</text><text x="606.5" y="337.1" font-size="11" text-anchor="start" font-weight="normal" fill="#1a1a1a" textLength="74.9" lengthAdjust="spacingAndGlyphs" stroke="#1a1a1a" stroke-width="0.4">B: FR (mm/rev)</text><text x="29.8" y="131.8" font-size="6.2" text-anchor="middle" font-weight="normal" fill="#222" stroke="#222" stroke-width="0.2">0.15</text><text x="46.0" y="139.2" font-size="6.2" text-anchor="middle" font-weight="normal" fill="#222" stroke="#222" stroke-width="0.2">0.13</text><text x="62.7" y="145.9" font-size="6.2" text-anchor="middle" font-weight="normal" fill="#222" stroke="#222" stroke-width="0.2">0.11</text><text x="78.2" y="153.2" font-size="6.2" text-anchor="middle" font-weight="normal" fill="#222" stroke="#222" stroke-width="0.2">0.09</text><text x="95.5" y="159.8" font-size="6.2" text-anchor="middle" font-weight="normal" fill="#222" stroke="#222" stroke-width="0.2">0.07</text><text x="111.5" y="167.9" font-size="6.2" text-anchor="middle" font-weight="normal" fill="#222" stroke="#222" stroke-width="0.2">0.05</text><text x="127.5" y="168.1" font-size="6.2" text-anchor="middle" font-weight="normal" fill="#222" stroke="#222" stroke-width="0.2">11</text><text x="145.8" y="160.2" font-size="6.2" text-anchor="middle" font-weight="normal" fill="#222" stroke="#222" stroke-width="0.2">17.2</text><text x="162.3" y="153.2" font-size="6.2" text-anchor="middle" font-weight="normal" fill="#222" stroke="#222" stroke-width="0.2">23.4</text><text x="178.2" y="145.7" font-size="6.2" text-anchor="middle" font-weight="normal" fill="#222" stroke="#222" stroke-width="0.2">29.6</text><text x="195.0" y="138.7" font-size="6.2" text-anchor="middle" font-weight="normal" fill="#222" stroke="#222" stroke-width="0.2">35.8</text><text x="208.2" y="131.5" font-size="6.2" text-anchor="middle" font-weight="normal" fill="#222" stroke="#222" stroke-width="0.2">42</text><text x="353.7" y="170.4" font-size="6.2" text-anchor="middle" font-weight="normal" fill="#222" stroke="#222" stroke-width="0.2">11</text><text x="372.0" y="163.7" font-size="6.2" text-anchor="middle" font-weight="normal" fill="#222" stroke="#222" stroke-width="0.2">17.2</text><text x="388.2" y="156.5" font-size="6.2" text-anchor="middle" font-weight="normal" fill="#222" stroke="#222" stroke-width="0.2">23.4</text><text x="404.5" y="149.2" font-size="6.2" text-anchor="middle" font-weight="normal" fill="#222" stroke="#222" stroke-width="0.2">29.6</text><text x="421.5" y="141.6" font-size="6.2" text-anchor="middle" font-weight="normal" fill="#222" stroke="#222" stroke-width="0.2">35.8</text><text x="435.2" y="134.2" font-size="6.2" text-anchor="middle" font-weight="normal" fill="#222" stroke="#222" stroke-width="0.2">42</text><text x="579.2" y="166.9" font-size="6.2" text-anchor="middle" font-weight="normal" fill="#222" stroke="#222" stroke-width="0.2">0.05</text><text x="594.7" y="160.5" font-size="6.2" text-anchor="middle" font-weight="normal" fill="#222" stroke="#222" stroke-width="0.2">0.07</text><text x="611.5" y="153.6" font-size="6.2" text-anchor="middle" font-weight="normal" fill="#222" stroke="#222" stroke-width="0.2">0.09</text><text x="627.9" y="145.9" font-size="6.2" text-anchor="middle" font-weight="normal" fill="#222" stroke="#222" stroke-width="0.2">0.11</text><text x="644.1" y="139.0" font-size="6.2" text-anchor="middle" font-weight="normal" fill="#222" stroke="#222" stroke-width="0.2">0.13</text><text x="660.0" y="131.7" font-size="6.2" text-anchor="middle" font-weight="normal" fill="#222" stroke="#222" stroke-width="0.2">0.15</text><text x="31.8" y="301.8" font-size="6.2" text-anchor="middle" font-weight="normal" fill="#222" stroke="#222" stroke-width="0.2">0.15</text><text x="47.7" y="309.4" font-size="6.2" text-anchor="middle" font-weight="normal" fill="#222" stroke="#222" stroke-width="0.2">0.13</text><text x="64.3" y="316.5" font-size="6.2" text-anchor="middle" font-weight="normal" fill="#222" stroke="#222" stroke-width="0.2">0.11</text><text x="80.6" y="323.7" font-size="6.2" text-anchor="middle" font-weight="normal" fill="#222" stroke="#222" stroke-width="0.2">0.09</text><text x="96.8" y="330.7" font-size="6.2" text-anchor="middle" font-weight="normal" fill="#222" stroke="#222" stroke-width="0.2">0.07</text><text x="112.7" y="338.0" font-size="6.2" text-anchor="middle" font-weight="normal" fill="#222" stroke="#222" stroke-width="0.2">0.05</text><text x="128.2" y="338.1" font-size="6.2" text-anchor="middle" font-weight="normal" fill="#222" stroke="#222" stroke-width="0.2">11</text><text x="146.8" y="331.1" font-size="6.2" text-anchor="middle" font-weight="normal" fill="#222" stroke="#222" stroke-width="0.2">17.2</text><text x="162.8" y="323.7" font-size="6.2" text-anchor="middle" font-weight="normal" fill="#222" stroke="#222" stroke-width="0.2">23.4</text><text x="178.9" y="316.7" font-size="6.2" text-anchor="middle" font-weight="normal" fill="#222" stroke="#222" stroke-width="0.2">29.6</text><text x="195.3" y="309.4" font-size="6.2" text-anchor="middle" font-weight="normal" fill="#222" stroke="#222" stroke-width="0.2">35.8</text><text x="208.5" y="302.4" font-size="6.2" text-anchor="middle" font-weight="normal" fill="#222" stroke="#222" stroke-width="0.2">42</text><text x="353.9" y="337.4" font-size="6.2" text-anchor="middle" font-weight="normal" fill="#222" stroke="#222" stroke-width="0.2">11</text><text x="372.6" y="329.9" font-size="6.2" text-anchor="middle" font-weight="normal" fill="#222" stroke="#222" stroke-width="0.2">17.2</text><text x="388.4" y="322.8" font-size="6.2" text-anchor="middle" font-weight="normal" fill="#222" stroke="#222" stroke-width="0.2">23.4</text><text x="405.1" y="315.3" font-size="6.2" text-anchor="middle" font-weight="normal" fill="#222" stroke="#222" stroke-width="0.2">29.6</text><text x="421.1" y="308.3" font-size="6.2" text-anchor="middle" font-weight="normal" fill="#222" stroke="#222" stroke-width="0.2">35.8</text><text x="435.2" y="301.0" font-size="6.2" text-anchor="middle" font-weight="normal" fill="#222" stroke="#222" stroke-width="0.2">42</text><text x="580.0" y="340.0" font-size="6.2" text-anchor="middle" font-weight="normal" fill="#222" stroke="#222" stroke-width="0.2">0.05</text><text x="596.5" y="332.7" font-size="6.2" text-anchor="middle" font-weight="normal" fill="#222" stroke="#222" stroke-width="0.2">0.07</text><text x="612.7" y="325.4" font-size="6.2" text-anchor="middle" font-weight="normal" fill="#222" stroke="#222" stroke-width="0.2">0.09</text><text x="628.8" y="318.1" font-size="6.2" text-anchor="middle" font-weight="normal" fill="#222" stroke="#222" stroke-width="0.2">0.11</text><text x="645.1" y="310.8" font-size="6.2" text-anchor="middle" font-weight="normal" fill="#222" stroke="#222" stroke-width="0.2">0.13</text><text x="661.3" y="303.5" font-size="6.2" text-anchor="middle" font-weight="normal" fill="#222" stroke="#222" stroke-width="0.2">0.15</text><text x="260.2" y="133.8" font-size="6.2" text-anchor="end" font-weight="normal" fill="#222" stroke="#fff" stroke-width="0.6" paint-order="stroke">100</text><text x="268.4" y="137.5" font-size="6.2" text-anchor="end" font-weight="normal" fill="#222" stroke="#fff" stroke-width="0.6" paint-order="stroke">91.7</text><text x="276.7" y="141.2" font-size="6.2" text-anchor="end" font-weight="normal" fill="#222" stroke="#fff" stroke-width="0.6" paint-order="stroke">83.4</text><text x="284.9" y="144.9" font-size="6.2" text-anchor="end" font-weight="normal" fill="#222" stroke="#fff" stroke-width="0.6" paint-order="stroke">75.1</text><text x="293.2" y="148.6" font-size="6.2" text-anchor="end" font-weight="normal" fill="#222" stroke="#fff" stroke-width="0.6" paint-order="stroke">66.8</text><text x="301.4" y="152.4" font-size="6.2" text-anchor="end" font-weight="normal" fill="#222" stroke="#fff" stroke-width="0.6" paint-order="stroke">58.5</text><text x="309.6" y="156.1" font-size="6.2" text-anchor="end" font-weight="normal" fill="#222" stroke="#fff" stroke-width="0.6" paint-order="stroke">50.2</text><text x="317.9" y="159.8" font-size="6.2" text-anchor="end" font-weight="normal" fill="#222" stroke="#fff" stroke-width="0.6" paint-order="stroke">41.9</text><text x="326.1" y="163.5" font-size="6.2" text-anchor="end" font-weight="normal" fill="#222" stroke="#fff" stroke-width="0.6" paint-order="stroke">33.6</text><text x="334.4" y="167.2" font-size="6.2" text-anchor="end" font-weight="normal" fill="#222" stroke="#fff" stroke-width="0.6" paint-order="stroke">25.3</text><text x="342.6" y="170.9" font-size="6.2" text-anchor="end" font-weight="normal" fill="#222" stroke="#fff" stroke-width="0.6" paint-order="stroke">17</text><text x="485.9" y="131.2" font-size="6.2" text-anchor="end" font-weight="normal" fill="#222" stroke="#fff" stroke-width="0.6" paint-order="stroke">100</text><text x="494.1" y="134.8" font-size="6.2" text-anchor="end" font-weight="normal" fill="#222" stroke="#fff" stroke-width="0.6" paint-order="stroke">91.7</text><text x="502.3" y="138.3" font-size="6.2" text-anchor="end" font-weight="normal" fill="#222" stroke="#fff" stroke-width="0.6" paint-order="stroke">83.4</text><text x="510.5" y="141.9" font-size="6.2" text-anchor="end" font-weight="normal" fill="#222" stroke="#fff" stroke-width="0.6" paint-order="stroke">75.1</text><text x="518.7" y="145.5" font-size="6.2" text-anchor="end" font-weight="normal" fill="#222" stroke="#fff" stroke-width="0.6" paint-order="stroke">66.8</text><text x="526.8" y="149.1" font-size="6.2" text-anchor="end" font-weight="normal" fill="#222" stroke="#fff" stroke-width="0.6" paint-order="stroke">58.5</text><text x="535.0" y="152.6" font-size="6.2" text-anchor="end" font-weight="normal" fill="#222" stroke="#fff" stroke-width="0.6" paint-order="stroke">50.2</text><text x="543.2" y="156.2" font-size="6.2" text-anchor="end" font-weight="normal" fill="#222" stroke="#fff" stroke-width="0.6" paint-order="stroke">41.9</text><text x="551.4" y="159.8" font-size="6.2" text-anchor="end" font-weight="normal" fill="#222" stroke="#fff" stroke-width="0.6" paint-order="stroke">33.6</text><text x="559.6" y="163.3" font-size="6.2" text-anchor="end" font-weight="normal" fill="#222" stroke="#fff" stroke-width="0.6" paint-order="stroke">25.3</text><text x="567.8" y="166.9" font-size="6.2" text-anchor="end" font-weight="normal" fill="#222" stroke="#fff" stroke-width="0.6" paint-order="stroke">17</text><text x="261.4" y="300.6" font-size="6.2" text-anchor="end" font-weight="normal" fill="#222" stroke="#fff" stroke-width="0.6" paint-order="stroke">100</text><text x="269.6" y="304.2" font-size="6.2" text-anchor="end" font-weight="normal" fill="#222" stroke="#fff" stroke-width="0.6" paint-order="stroke">91.7</text><text x="277.8" y="307.7" font-size="6.2" text-anchor="end" font-weight="normal" fill="#222" stroke="#fff" stroke-width="0.6" paint-order="stroke">83.4</text><text x="286.0" y="311.2" font-size="6.2" text-anchor="end" font-weight="normal" fill="#222" stroke="#fff" stroke-width="0.6" paint-order="stroke">75.1</text><text x="294.2" y="314.8" font-size="6.2" text-anchor="end" font-weight="normal" fill="#222" stroke="#fff" stroke-width="0.6" paint-order="stroke">66.8</text><text x="302.4" y="318.4" font-size="6.2" text-anchor="end" font-weight="normal" fill="#222" stroke="#fff" stroke-width="0.6" paint-order="stroke">58.5</text><text x="310.6" y="321.9" font-size="6.2" text-anchor="end" font-weight="normal" fill="#222" stroke="#fff" stroke-width="0.6" paint-order="stroke">50.2</text><text x="318.8" y="325.5" font-size="6.2" text-anchor="end" font-weight="normal" fill="#222" stroke="#fff" stroke-width="0.6" paint-order="stroke">41.9</text><text x="327.0" y="329.0" font-size="6.2" text-anchor="end" font-weight="normal" fill="#222" stroke="#fff" stroke-width="0.6" paint-order="stroke">33.6</text><text x="335.2" y="332.6" font-size="6.2" text-anchor="end" font-weight="normal" fill="#222" stroke="#fff" stroke-width="0.6" paint-order="stroke">25.3</text><text x="343.4" y="336.1" font-size="6.2" text-anchor="end" font-weight="normal" fill="#222" stroke="#fff" stroke-width="0.6" paint-order="stroke">17</text><text x="487.0" y="303.0" font-size="6.2" text-anchor="end" font-weight="normal" fill="#222" stroke="#fff" stroke-width="0.6" paint-order="stroke">100</text><text x="495.1" y="306.7" font-size="6.2" text-anchor="end" font-weight="normal" fill="#222" stroke="#fff" stroke-width="0.6" paint-order="stroke">91.7</text><text x="503.2" y="310.3" font-size="6.2" text-anchor="end" font-weight="normal" fill="#222" stroke="#fff" stroke-width="0.6" paint-order="stroke">83.4</text><text x="511.4" y="314.0" font-size="6.2" text-anchor="end" font-weight="normal" fill="#222" stroke="#fff" stroke-width="0.6" paint-order="stroke">75.1</text><text x="519.5" y="317.7" font-size="6.2" text-anchor="end" font-weight="normal" fill="#222" stroke="#fff" stroke-width="0.6" paint-order="stroke">66.8</text><text x="527.6" y="321.3" font-size="6.2" text-anchor="end" font-weight="normal" fill="#222" stroke="#fff" stroke-width="0.6" paint-order="stroke">58.5</text><text x="535.7" y="325.0" font-size="6.2" text-anchor="end" font-weight="normal" fill="#222" stroke="#fff" stroke-width="0.6" paint-order="stroke">50.2</text><text x="543.8" y="328.7" font-size="6.2" text-anchor="end" font-weight="normal" fill="#222" stroke="#fff" stroke-width="0.6" paint-order="stroke">41.9</text><text x="552.0" y="332.4" font-size="6.2" text-anchor="end" font-weight="normal" fill="#222" stroke="#fff" stroke-width="0.6" paint-order="stroke">33.6</text><text x="560.1" y="336.0" font-size="6.2" text-anchor="end" font-weight="normal" fill="#222" stroke="#fff" stroke-width="0.6" paint-order="stroke">25.3</text><text x="568.2" y="339.7" font-size="6.2" text-anchor="end" font-weight="normal" fill="#222" stroke="#fff" stroke-width="0.6" paint-order="stroke">17</text><text x="32" y="99.5" font-size="5.8" text-anchor="end" font-weight="normal" fill="#222">100</text><text x="32" y="84.0" font-size="5.8" text-anchor="end" font-weight="normal" fill="#222">120</text><text x="32" y="68.4" font-size="5.8" text-anchor="end" font-weight="normal" fill="#222">140</text><text x="32" y="52.8" font-size="5.8" text-anchor="end" font-weight="normal" fill="#222">160</text><text x="32" y="37.3" font-size="5.8" text-anchor="end" font-weight="normal" fill="#222">180</text><text x="256.8" y="102.2" font-size="5.8" text-anchor="end" font-weight="normal" fill="#222">100</text><text x="256.8" y="86.1" font-size="5.8" text-anchor="end" font-weight="normal" fill="#222">120</text><text x="256.8" y="70.1" font-size="5.8" text-anchor="end" font-weight="normal" fill="#222">140</text><text x="256.8" y="54.1" font-size="5.8" text-anchor="end" font-weight="normal" fill="#222">160</text><text x="256.8" y="38.1" font-size="5.8" text-anchor="end" font-weight="normal" fill="#222">180</text><text x="482.3" y="100.5" font-size="5.8" text-anchor="end" font-weight="normal" fill="#222">100</text><text x="482.3" y="84.7" font-size="5.8" text-anchor="end" font-weight="normal" fill="#222">120</text><text x="482.3" y="69.0" font-size="5.8" text-anchor="end" font-weight="normal" fill="#222">140</text><text x="482.3" y="53.2" font-size="5.8" text-anchor="end" font-weight="normal" fill="#222">160</text><text x="482.3" y="37.5" font-size="5.8" text-anchor="end" font-weight="normal" fill="#222">180</text><text x="33.3" y="269.5" font-size="5.8" text-anchor="end" font-weight="normal" fill="#222">30</text><text x="33.3" y="256.6" font-size="5.8" text-anchor="end" font-weight="normal" fill="#222">40</text><text x="33.3" y="243.7" font-size="5.8" text-anchor="end" font-weight="normal" fill="#222">50</text><text x="33.3" y="230.8" font-size="5.8" text-anchor="end" font-weight="normal" fill="#222">60</text><text x="33.3" y="217.8" font-size="5.8" text-anchor="end" font-weight="normal" fill="#222">70</text><text x="33.3" y="204.9" font-size="5.8" text-anchor="end" font-weight="normal" fill="#222">80</text><text x="33.3" y="192.0" font-size="5.8" text-anchor="end" font-weight="normal" fill="#222">90</text><text x="258.6" y="269.5" font-size="5.8" text-anchor="end" font-weight="normal" fill="#222">30</text><text x="258.6" y="256.4" font-size="5.8" text-anchor="end" font-weight="normal" fill="#222">40</text><text x="258.6" y="243.4" font-size="5.8" text-anchor="end" font-weight="normal" fill="#222">50</text><text x="258.6" y="230.3" font-size="5.8" text-anchor="end" font-weight="normal" fill="#222">60</text><text x="258.6" y="217.2" font-size="5.8" text-anchor="end" font-weight="normal" fill="#222">70</text><text x="258.6" y="204.2" font-size="5.8" text-anchor="end" font-weight="normal" fill="#222">80</text><text x="484.2" y="271.6" font-size="5.8" text-anchor="end" font-weight="normal" fill="#222">30</text><text x="484.2" y="258.4" font-size="5.8" text-anchor="end" font-weight="normal" fill="#222">40</text><text x="484.2" y="245.1" font-size="5.8" text-anchor="end" font-weight="normal" fill="#222">50</text><text x="484.2" y="231.8" font-size="5.8" text-anchor="end" font-weight="normal" fill="#222">60</text><text x="484.2" y="218.5" font-size="5.8" text-anchor="end" font-weight="normal" fill="#222">70</text><text x="484.2" y="205.3" font-size="5.8" text-anchor="end" font-weight="normal" fill="#222">80</text>

<rect x="2.8" y="2.7" width="679.1" height="339.6" rx="1.5" fill="none" stroke="#7480b0" stroke-width="1.3"/>
<line x1="229" y1="2.7" x2="229" y2="342.3" stroke="#9aa2cc" stroke-width="1.4"/>
<line x1="455" y1="2.7" x2="455" y2="342.3" stroke="#6a76aa" stroke-width="1.2"/>
<line x1="2.8" y1="172.4" x2="681.9" y2="172.4" stroke="#4a5690" stroke-width="1.1"/>
<line x1="2.8" y1="342.3" x2="681.9" y2="342.3" stroke="#4a5690" stroke-width="1.1"/>
<line x1="0" y1="28.2" x2="2.4" y2="28.2" stroke="#8890a8" stroke-width="0.8"/>
<rect x="632.2" y="343.2" width="52.8" height="3.8" fill="#f3f3f3"/>
<line x1="631.6" y1="343" x2="631.6" y2="347" stroke="#b4b4b4" stroke-width="1"/>

</svg></body></html>
